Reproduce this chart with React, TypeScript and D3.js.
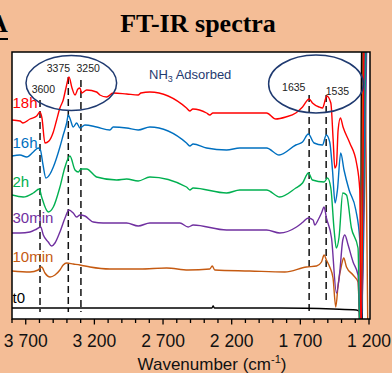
import React from 'react'
import * as d3 from 'd3'

// spectra: [wavenumber (cm-1), absorbance (a.u., stacked)]
const t0 = [
  [3800, 11], [2432, 11], [2344, 11], [2335, 13], [2326, 11], [1850, 11], [1462, 10],
  [1291, 9], [1267, 7], [1261, -20], [1255, 290], [1249, -20], [1244, 290],
]
const min10 = [
  [3800, 48], [3669, 47], [3609, 49], [3584, 52], [3560, 46], [3523, 42], [3487, 44],
  [3451, 49], [3427, 54], [3402, 56], [3354, 55], [3305, 54], [3232, 52], [3087, 50],
  [2868, 50], [2674, 51], [2517, 49], [2359, 50], [2342, 53], [2323, 49], [2068, 48],
  [1813, 47], [1655, 52], [1582, 53], [1546, 57], [1527, 64], [1510, 59], [1486, 52],
  [1462, 41], [1442, 12], [1425, 34], [1400, 54], [1384, 61], [1364, 52], [1316, 44],
  [1280, 37], [1263, -20], [1240, 290], [1208, -20],
]
const min30 = [
  [3800, 86], [3742, 86], [3669, 87], [3620, 90], [3591, 92], [3572, 84], [3536, 77],
  [3511, 73], [3487, 76], [3451, 87], [3414, 101], [3385, 109], [3354, 106], [3329, 102],
  [3305, 104], [3269, 103], [3208, 97], [3136, 96], [2965, 96], [2881, 93], [2796, 96],
  [2577, 96], [2517, 92], [2480, 94], [2237, 89], [1946, 89], [1850, 86], [1728, 92],
  [1680, 97], [1643, 101], [1607, 99], [1595, 94], [1571, 99], [1546, 106], [1527, 112],
  [1510, 101], [1473, 81], [1437, 26], [1413, 47], [1391, 79], [1376, 84], [1352, 74],
  [1316, 57], [1280, 44], [1264, -20], [1215, 290],
]
const h2 = [
  [3800, 124], [3718, 122], [3645, 126], [3601, 130], [3584, 122], [3536, 107], [3499, 112],
  [3451, 132], [3414, 152], [3378, 163], [3341, 149], [3317, 147], [3298, 150], [3256, 150],
  [3184, 142], [3038, 139], [2965, 140], [2881, 138], [2796, 142], [2529, 132], [2505, 129],
  [2481, 131], [2237, 126], [2141, 129], [1946, 129], [1850, 122], [1733, 131], [1684, 136],
  [1641, 146], [1612, 139], [1527, 137], [1502, 141], [1478, 131], [1454, 89], [1438, 71],
  [1418, 82], [1391, 126], [1364, 124], [1328, 91], [1280, 71], [1265, -20], [1222, 290],
]
const h16 = [
  [3800, 163], [3742, 164], [3693, 162], [3645, 167], [3609, 171], [3593, 169], [3574, 154],
  [3553, 141], [3523, 145], [3499, 152], [3451, 172], [3427, 184], [3402, 196], [3390, 204],
  [3374, 199], [3354, 192], [3329, 196], [3305, 191], [3269, 194], [3184, 192], [3087, 189],
  [3063, 192], [2965, 191], [2881, 189], [2796, 192], [2529, 176], [2505, 173], [2481, 175],
  [2383, 171], [2237, 169], [2141, 171], [1946, 171], [1855, 164], [1733, 174], [1684, 177],
  [1642, 185], [1600, 176], [1539, 174], [1511, 184], [1486, 177], [1466, 149], [1447, 116],
  [1430, 129], [1406, 166], [1382, 149], [1345, 129], [1296, 109], [1267, 79], [1260, -20],
  [1228, 290],
]
const h18 = [
  [3800, 199], [3742, 198], [3720, 196], [3669, 200], [3620, 203], [3596, 207], [3582, 201],
  [3560, 176], [3531, 178], [3499, 187], [3475, 199], [3451, 211], [3427, 219], [3407, 231],
  [3385, 242], [3363, 231], [3341, 224], [3320, 230], [3305, 231], [3293, 226], [3256, 229],
  [3184, 227], [3160, 224], [3111, 222], [3063, 226], [2965, 225], [2881, 224], [2861, 226],
  [2796, 227], [2529, 211], [2505, 208], [2483, 210], [2383, 206], [2359, 204], [2337, 206],
  [2189, 206], [1946, 206], [1879, 200], [1806, 202], [1733, 206], [1684, 212], [1636, 220],
  [1612, 216], [1564, 212], [1539, 211], [1507, 223], [1478, 216], [1461, 179], [1449, 151],
  [1437, 154], [1425, 189], [1408, 201], [1389, 192], [1340, 176], [1291, 156], [1267, 129],
  [1258, -20], [1236, 290],
]

const seriesNames = ['18h', '16h', '2h', '30min', '10min', 't0']
const seriesData = [h18, h16, h2, min30, min10, t0]
const seriesColors = ['#FF0000', '#0070C0', '#00B050', '#7030A0', '#C55A11', '#000000']
const seriesLabelAt = [211, 171, 132, 96, 57, 16]

const peakLabels = ['3600', '3375', '3250', '1635', '1535']
const peakLines = [3596, 3390, 3298, 1636, 1512]
const peakTops = [219, 242, 239, 224, 224]
const peakBottoms = [7, 7, 7, 7, 19]
const peakTextAt = [[3572, 226], [3462, 247], [3245, 247], [1748, 228.5], [1430, 224]]

const ellipses = [
  {w: 3368, a: 236, rw: 330, ra: 27.5},
  {w: 1586, a: 235, rw: 345, ra: 29},
]

const minorTicks = d3.range(3800, 1199, -100)
const majorTicks = [3700, 3200, 2700, 2200, 1700, 1200]
const majorTickLabels = ['3 700', '3 200', '2 700', '2 200', '1 700', '1 200']

const W = 392
const H = 373
const plot = {left: 12, right: 370, top: 52, bottom: 319}
const sans = 'Arial, "Liberation Sans", sans-serif'
const navy = '#1F3A70'

export default function App() {
  const x = d3.scaleLinear().domain([3800, 1200]).range([plot.left, 369])
  const y = d3.scaleLinear().domain([0, 267]).range([plot.bottom, plot.top])

  const line = d3
    .line<number[]>()
    .x(d => x(d[0]))
    .y(d => y(d[1]))
    .curve(d3.curveMonotoneX)

  // draw t0 first so the coloured traces sit on top of it
  const order = d3.range(seriesData.length).reverse()

  return (
    <svg width={W} height={H} style={{position: 'absolute', left: 0, top: 0}}>
      <rect width={W} height={H} fill="#F4BD96" />
      <defs>
        <clipPath id="plotclip">
          <rect x={plot.left} y={plot.top} width={plot.right - plot.left} height={plot.bottom - plot.top} />
        </clipPath>
      </defs>

      {/* panel letter and title */}
      <text x={-11} y={32} fontFamily='"Liberation Serif", "Times New Roman", serif' fontWeight="bold" fontSize={26}>A</text>
      <line x1={-11} x2={8} y1={39} y2={39} stroke="#000" strokeWidth={2} />
      <text x={198} y={31.5} textAnchor="middle" fontFamily='"Liberation Serif", "Times New Roman", serif' fontWeight="bold" fontSize={26}>
        FT-IR spectra
      </text>

      <rect x={plot.left} y={plot.top} width={plot.right - plot.left} height={plot.bottom - plot.top} fill="#fff" />

      {/* dashed guides */}
      {peakLines.map((w, i) => (
        <line key={'d' + i} x1={x(w)} x2={x(w)} y1={y(peakTops[i])} y2={y(peakBottoms[i])}
          stroke="#111" strokeWidth={1.5} strokeDasharray="7,4" />
      ))}

      <g clipPath="url(#plotclip)">
        {order.map(i => (
          <path key={seriesNames[i]} d={line(seriesData[i]) || ''} fill="none" stroke={seriesColors[i]} strokeWidth={1.4} />
        ))}
      </g>

      {seriesNames.map((n, i) => (
        <text key={'l' + n} x={plot.left + 0.5} y={y(seriesLabelAt[i])} fill={seriesColors[i]} fontFamily={sans} fontSize={15}>
          {n}
        </text>
      ))}

      {ellipses.map((e, i) => (
        <ellipse key={'e' + i} cx={x(e.w)} cy={y(e.a)} rx={Math.abs(x(e.w + e.rw) - x(e.w))}
          ry={Math.abs(y(e.a + e.ra) - y(e.a))} fill="none" stroke={navy} strokeWidth={1.5} />
      ))}

      {peakLabels.map((t, i) => (
        <text key={'p' + t} x={x(peakTextAt[i][0])} y={y(peakTextAt[i][1])} textAnchor="middle"
          fontFamily={sans} fontSize={10.5} fill="#222">{t}</text>
      ))}

      <text x={149} y={78.5} fontFamily={sans} fontSize={13} fill={navy}>
        NH<tspan fontSize={9} dy={3}>3</tspan><tspan dy={-3}> Adsorbed</tspan>
      </text>

      {/* frame */}
      <rect x={plot.left} y={plot.top} width={plot.right - plot.left} height={plot.bottom - plot.top}
        fill="none" stroke="#000" strokeWidth={1.5} />

      {/* x axis */}
      {minorTicks.map(t => (
        <line key={'t' + t} x1={x(t)} x2={x(t)} y1={plot.bottom}
          y2={plot.bottom + (majorTicks.includes(t) ? 5.5 : 4)} stroke="#000" strokeWidth={1.3} />
      ))}
      {majorTicks.map((t, i) => (
        <text key={'m' + t} x={x(t)} y={346.5} textAnchor="middle" fontFamily={sans} fontSize={17.5} fill="#111">
          {majorTickLabels[i]}
        </text>
      ))}
      <text x={212} y={370} textAnchor="middle" fontFamily={sans} fontSize={17} fill="#111">
        Wavenumber (cm<tspan fontSize={11} dy={-7}>-1</tspan><tspan dy={7}>)</tspan>
      </text>
    </svg>
  )
}
